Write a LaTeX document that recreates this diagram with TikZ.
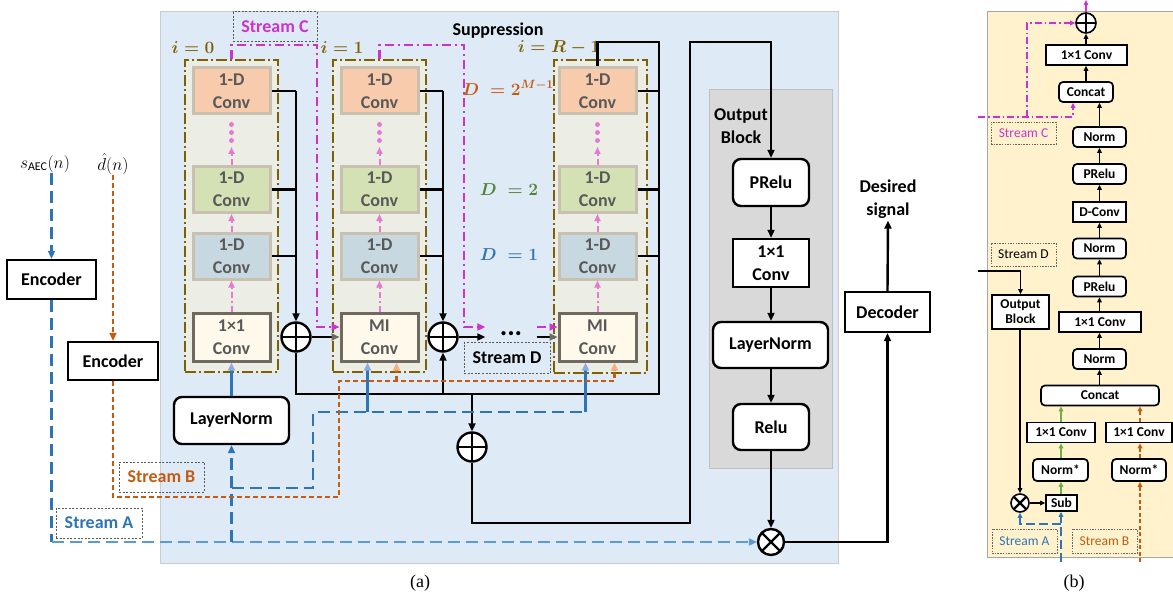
\documentclass[tikz,border=0pt]{standalone}
\usepackage{amsmath}
\usepackage{fontspec}
\setmainfont{Carlito}
\newfontfamily\capfont{Liberation Serif}
\usetikzlibrary{arrows.meta,positioning,calc}
\definecolor{bgblue}{HTML}{DEEAF6}
\definecolor{bgyellow}{HTML}{FFF2CC}
\definecolor{obgray}{HTML}{D9D9D9}
\definecolor{obline}{HTML}{BFBFBF}
\definecolor{convorange}{HTML}{F8CBAD}
\definecolor{convgreen}{HTML}{D3E1B5}
\definecolor{convblue}{HTML}{C8D8E0}
\definecolor{convline}{HTML}{C8C0B0}
\definecolor{mifill}{HTML}{FFF9EC}
\definecolor{miline}{HTML}{6E6A60}
\definecolor{blkfill}{HTML}{ECEEE6}
\definecolor{olive}{HTML}{7F6000}
\definecolor{txtgray}{HTML}{595959}
\definecolor{streamA}{HTML}{2E75B6}
\definecolor{streamAl}{HTML}{5B9BD5}
\definecolor{streamB}{HTML}{C55A11}
\definecolor{streamC}{HTML}{CC33CC}
\definecolor{pinkar}{HTML}{E57AD2}
\definecolor{tipblue}{HTML}{8FAADC}
\definecolor{tiporange}{HTML}{F4B183}
\definecolor{dgreen}{HTML}{548235}
\definecolor{bgreen}{HTML}{70AD47}
\newcommand{\txtA}{\bfseries\fontsize{18}{23}\selectfont}
\newcommand{\txtB}{\bfseries\fontsize{13.5}{15}\selectfont}
\newcommand{\txtBr}{\fontsize{13.5}{15}\selectfont}
\newcommand{\txtM}{\fontsize{17}{20}\selectfont}
\tikzset{
  box/.style={draw, line width=2.4pt, fill=white, align=center, inner sep=0pt, font=\txtA},
  rbox/.style={box, rounded corners=8pt},
  convbox/.style={box, draw=convline, line width=3pt, text=txtgray, minimum width=77pt, minimum height=46pt},
  miconv/.style={convbox, draw=miline, fill=mifill, minimum height=48pt},
  blk/.style={draw=olive, line width=2pt, fill=blkfill, dash pattern=on 11pt off 3pt on 2pt off 3pt,
              minimum width=93pt, minimum height=312pt, inner sep=0pt},
  streambox/.style={draw=black!65, line width=1pt, dash pattern=on 2pt off 1.6pt, inner sep=0pt, font=\txtA},
  lab/.style={font=\txtM, inner sep=0pt},
  ringnode/.style={circle, draw, line width=2.4pt, fill=white, inner sep=0pt},
  sumnode/.style={ringnode, minimum size=29pt,
    path picture={\draw[line width=2.4pt] (path picture bounding box.north) -- (path picture bounding box.south)
                  (path picture bounding box.west) -- (path picture bounding box.east);}},
  mulnode/.style={ringnode, minimum size=26pt,
    path picture={\draw[line width=2.4pt] (path picture bounding box.north west) -- (path picture bounding box.south east)
                  (path picture bounding box.north east) -- (path picture bounding box.south west);}},
  wire/.style={line width=2.4pt},
  arr/.style={wire, -{Triangle[length=8pt,width=7pt]}},
  garr/.style={wire, -{Triangle[length=8pt,width=7pt,color=miline]}},
  arrA/.style={-{Triangle[length=8pt,width=7pt]}},
  tipA/.style={-{Triangle[length=8pt,width=7pt,color=tipblue]}},
  tipB/.style={-{Triangle[length=8pt,width=7pt,color=tiporange]}},
  dashA/.style={draw=streamA, line width=2.4pt, dash pattern=on 12pt off 6pt},
  solidA/.style={draw=streamA, line width=2.4pt},
  dashB/.style={draw=streamB, line width=2.4pt, dash pattern=on 5pt off 3pt},
  magC/.style={draw=streamC, line width=2.6pt, dash pattern=on 9pt off 4pt on 2pt off 4pt},
  pinkup/.style={draw=pinkar, line width=2pt, dash pattern=on 6pt off 3pt on 2pt off 3pt,
                 -{Triangle[length=7pt,width=6pt]}},
  pinkdots/.style={draw=pinkar, line width=5pt, line cap=round, dash pattern=on 0pt off 8pt},
  % panel (b)
  bbox/.style={draw, line width=1.7pt, fill=white, align=center, inner sep=0pt, font=\txtB, minimum height=20pt},
  brbox/.style={bbox, rounded corners=4pt},
  btip/.style={-{Triangle[length=5pt,width=4.5pt]}},
  barr/.style={line width=1.6pt, btip},
  bgarr/.style={barr, draw=bgreen},
  bdashA/.style={draw=streamA, line width=1.6pt, dash pattern=on 9pt off 4pt},
  bdashB/.style={draw=streamB, line width=1.6pt, dash pattern=on 4pt off 2.5pt},
  bmagC/.style={draw=streamC, line width=1.7pt, dash pattern=on 7pt off 3pt on 1.5pt off 3pt},
  bstream/.style={draw=black!60, line width=0.8pt, dash pattern=on 1.5pt off 1.2pt, inner sep=0pt, font=\txtBr},
}
\begin{document}
\begin{tikzpicture}[x=1pt, y=-1pt]
  \useasboundingbox (0,0) rectangle (1173,599);

  % ---------- panel (a) ----------
  \node[draw=black!20, fill=bgblue, minimum width=678pt, minimum height=552pt, inner sep=0pt] (pa) at (499,287) {};
  \node[draw=obline, line width=1pt, fill=obgray, minimum width=123pt, minimum height=378pt, inner sep=0pt] (ob) at (770.5,279) {};
  \node[font=\txtA] (supp) at (498,31) {Suppression};

  \node[blk] (blk0) at (231.5,216) {};
  \node[blk] (blk1) at (379.5,216) {};
  \node[blk] (blk2) at (600,216.5) {};

  \node[lab, text=olive] (i0) at (193,48) {$\boldsymbol{i=0}$};
  \node[lab, text=olive] (i1) at (342,48) {$\boldsymbol{i=1}$};
  \node[lab, text=olive] (i2) at (559,48) {$\boldsymbol{i=R-1}$};

  \node[convbox, fill=convorange] (o0) at (231.5,91) {1-D\\Conv};
  \node[convbox, fill=convgreen] (g0) at (231.5,189.5) {1-D\\Conv};
  \node[convbox, fill=convblue] (b0) at (231.5,256) {1-D\\Conv};
  \node[miconv] (c0) at (231.5,337) {1×1\\Conv};

  \node[convbox, fill=convorange] (o1) at (379.5,91) {1-D\\Conv};
  \node[convbox, fill=convgreen] (g1) at (379.5,189.5) {1-D\\Conv};
  \node[convbox, fill=convblue] (b1) at (379.5,256) {1-D\\Conv};
  \node[miconv] (m1) at (379.5,337) {MI\\Conv};

  \node[convbox, fill=convorange] (o2) at (597.5,91) {1-D\\Conv};
  \node[convbox, fill=convgreen] (g2) at (597.5,189.5) {1-D\\Conv};
  \node[convbox, fill=convblue] (b2) at (597.5,256) {1-D\\Conv};
  \node[miconv] (m2) at (597.5,337) {MI\\Conv};

  \node[lab, text=streamB] (dM) at (508,88) {$\boldsymbol{D\;=2^{M-1}}$};
  \node[lab, text=dgreen] (dtwo) at (509,190) {$\boldsymbol{D\;=2}$};
  \node[lab, text=streamA] (done) at (509,255) {$\boldsymbol{D\;=1}$};

  \node[sumnode] (s0) at (296,337) {};
  \node[sumnode] (s1) at (443,337) {};
  \node[sumnode] (s3) at (472,447) {};
  \node[mulnode] (x0) at (771,542) {};
  \node[inner sep=0pt, minimum width=51pt, font=\bfseries\fontsize{28}{28}\selectfont] (dots) at (511,337) {\raisebox{6pt}{...}};

  \node[box, minimum width=89pt, minimum height=39pt] (enc1) at (51.5,279.5) {Encoder};
  \node[box, minimum width=90pt, minimum height=38pt] (enc2) at (113,361) {Encoder};
  \node[rbox, minimum width=115pt, minimum height=47pt] (ln1) at (231.5,420.5) {LayerNorm};
  \node[lab] (sa) at (45,164) {$s_{\mathrm{AEC}}(n)$};
  \node[lab] (dh) at (113,164) {$\hat{d}(n)$};

  \node[font=\txtA, align=center, inner sep=0pt] (obl) at (741,126) {Output\\Block};
  \node[rbox, minimum width=76pt, minimum height=47pt] (pr) at (771,182.5) {PRelu};
  \node[box, minimum width=76pt, minimum height=48pt] (cv) at (771,263) {1×1\\Conv};
  \node[rbox, minimum width=115pt, minimum height=46pt] (ln2) at (770.5,345) {LayerNorm};
  \node[rbox, minimum width=76pt, minimum height=46pt] (re) at (771,427) {Relu};
  \node[box, minimum width=85pt, minimum height=40pt] (dec) at (887.5,312) {Decoder};
  \node[font=\txtA, align=center, inner sep=2pt] (des) at (888,199) {Desired\\signal};

  \node[streambox, text=streamC, minimum width=84pt, minimum height=30pt] (stC) at (275,27) {Stream C};
  \node[streambox, minimum width=86pt, minimum height=31pt] (stD) at (507,358) {Stream D};
  \node[streambox, text=streamB, minimum width=85pt, minimum height=30pt] (stB) at (161.5,477) {Stream B};
  \node[streambox, text=streamA, minimum width=86pt, minimum height=30pt] (stA) at (99,523) {Stream A};

  % skip taps and sums
  \draw[wire] (o0.east) -- (o0.east -| s0);
  \draw[wire] (g0.east) -- (g0.east -| s0);
  \draw[wire] (b0.east) -- (b0.east -| s0);
  \draw[arr] (o0.east -| s0) -- (s0.north);
  \draw[wire] (o1.east) -- (o1.east -| s1);
  \draw[wire] (g1.east) -- (g1.east -| s1);
  \draw[wire] (b1.east) -- (b1.east -| s1);
  \draw[arr] (o1.east -| s1) -- (s1.north);
  \coordinate (busR) at (659,394);
  \coordinate (topR) at (659,42);
  \draw[wire] (o2.east) -- (o2.east -| busR);
  \draw[wire] (g2.east) -- (g2.east -| busR);
  \draw[wire] (b2.east) -- (b2.east -| busR);
  \draw[wire] (s0.south) |- (busR) -- (topR) -| (o2.north);
  \draw[arr] (s1.south |- busR) -- (s1.south);
  \draw[arr] (s3.north |- busR) -- (s3.north);
  \draw[garr] (s0.east) -- (m1.west);
  \draw[arr] (s1.east) -- (dots.west);
  \draw[garr] (dots.east) -- (m2.west);

  % output block
  \coordinate (rb) at (690,523);
  \coordinate (rt) at (690,42);
  \draw[arr] (s3.south) |- (rb) -- (rt) -| (pr.north);
  \draw[arr] (pr.south) -- (cv.north);
  \draw[arr] (cv.south) -- (cv.south |- ln2.north);
  \draw[arr] (ln2.south -| re) -- (re.north);
  \draw[arr] (re.south) -- (x0.north);
  \draw[arr] (x0.east) -| (dec.south);
  \draw[arr] (dec.north) -- (des.south);

  % inner flow
  \draw[pinkup] (c0.north) -- (b0.south);
  \draw[pinkup] (b0.north) -- (g0.south);
  \draw[pinkup] (g0.north) -- ++(0,-18);
  \draw[pinkdots] ($(o0.south)+(0,9)$) -- ++(0,17);
  \draw[pinkup] (m1.north) -- (b1.south);
  \draw[pinkup] (b1.north) -- (g1.south);
  \draw[pinkup] (g1.north) -- ++(0,-18);
  \draw[pinkdots] ($(o1.south)+(0,9)$) -- ++(0,17);
  \draw[pinkup] (m2.north) -- (b2.south);
  \draw[pinkup] (b2.north) -- (g2.south);
  \draw[pinkup] (g2.north) -- ++(0,-18);
  \draw[pinkdots] ($(o2.south)+(0,9)$) -- ++(0,17);

  % stream A
  \draw[dashA, arrA] (enc1.north |- sa.south) -- (enc1.north);
  \draw[dashA] (enc1.south) -- (enc1.south |- x0);
  \draw[dashA, draw=streamAl, arrA] (enc1.south |- x0) -- (x0.west);
  \draw[dashA, arrA] (ln1.south |- x0) -- (ln1.south);
  \draw[solidA, tipA] (ln1.north) -- (c0.south);
  \coordinate (aB) at (313,488);
  \coordinate (aT) at (313,412);
  \coordinate (a1) at ($(m1.south)+(-12,0)$);
  \coordinate (a2) at ($(m2.south)+(-12,0)$);
  \draw[dashA] (ln1.south |- aB) -- (aB) -- (aT) -- (aT -| a2);
  \draw[solidA, tipA] (aT -| a1) -- (a1);
  \draw[solidA, tipA] (aT -| a2) -- (a2);

  % stream B
  \coordinate (bB) at (339,497);
  \coordinate (bT) at (339,381);
  \coordinate (b1) at ($(m1.south)+(17,0)$);
  \coordinate (b2) at ($(m2.south)+(17,0)$);
  \draw[dashB, arrA] (enc2.north |- dh.south) -- (enc2.north);
  \draw[dashB, tipB] (enc2.south) |- (bB) -- (bT) -| (b2);
  \draw[dashB, tipB] (bT -| b1) -- (b1);

  % stream C
  \coordinate (c1) at (317,45);
  \coordinate (c2) at (464,45);
  \coordinate (cm1) at ($(m1.west)+(0,-10)$);
  \coordinate (cm2) at ($(m2.west)+(0,-10)$);
  \draw[magC, arrA] (blk0.north) |- (c1) |- (cm1);
  \draw[magC, arrA] (blk1.north) |- (c2) |- (dots.west |- cm1);
  \draw[magC, arrA] (dots.east |- cm2) -- (cm2);

  \node[font=\capfont\fontsize{18}{20}\selectfont] (capa) at (420,583) {(a)};

  % ---------- panel (b) ----------
  \node[draw=black!35, fill=bgyellow, minimum width=200pt, minimum height=546pt, inner sep=0pt] (pb) at (1087,284) {};
  \node[sumnode, minimum size=20pt, line width=1.6pt] (bsum) at (1086,23) {};
  \node[bbox, minimum width=81pt] (bcv1) at (1086.5,55) {1×1 Conv};
  \node[brbox, minimum width=54pt] (bcat1) at (1086,92) {Concat};
  \node[brbox, minimum width=53pt] (bn1) at (1099.5,137) {Norm};
  \node[brbox, minimum width=53pt] (bpr1) at (1099.5,174) {PRelu};
  \node[bbox, minimum width=53pt] (bdc) at (1099.5,212) {D-Conv};
  \node[brbox, minimum width=53pt] (bn2) at (1099.5,248.5) {Norm};
  \node[brbox, minimum width=53pt] (bpr2) at (1099.5,286.5) {PRelu};
  \node[bbox, minimum width=82pt] (bcv2) at (1100,322) {1×1 Conv};
  \node[brbox, minimum width=53pt] (bn3) at (1099.5,359) {Norm};
  \node[brbox, minimum width=118pt] (bcat2) at (1100,395.5) {Concat};
  \node[bbox, minimum width=68pt] (bcvL) at (1061,432.5) {1×1 Conv};
  \node[bbox, minimum width=66pt] (bcvR) at (1139,432.5) {1×1 Conv};
  \node[brbox, minimum width=55pt, minimum height=22pt] (bnsL) at (1060.5,470) {Norm*};
  \node[brbox, minimum width=54pt, minimum height=22pt] (bnsR) at (1139,470) {Norm*};
  \node[mulnode, minimum size=18pt, line width=1.6pt] (bmul) at (1020,503) {};
  \node[bbox, minimum width=31pt, minimum height=16pt] (bsub) at (1061.5,503) {Sub};
  \node[bbox, minimum width=57pt, minimum height=34pt] (bob) at (1020.5,312) {Output\\Block};

  \node[bstream, text=streamC, minimum width=65pt, minimum height=22pt] (bsC) at (1023.5,133) {Stream C};
  \node[bstream, minimum width=65pt, minimum height=23pt] (bsD) at (1023.5,254.5) {Stream D};
  \node[bstream, text=streamA, minimum width=65pt, minimum height=24pt] (bsA) at (1024.5,541) {Stream A};
  \node[bstream, text=streamB, minimum width=65pt, minimum height=24pt] (bsB) at (1104.5,541) {Stream B};

  \draw[barr] (bcv1.north -| bsum) -- (bsum.south);
  \draw[barr] (bcat1.north) -- (bcat1.north |- bcv1.south);
  \draw[barr] (bn1.north) -- (bn1.north |- bcat1.south);
  \draw[barr] (bpr1.north) -- (bn1.south);
  \draw[barr] (bdc.north) -- (bpr1.south);
  \draw[barr] (bn2.north) -- (bdc.south);
  \draw[barr] (bpr2.north) -- (bn2.south);
  \draw[barr] (bcv2.north -| bpr2) -- (bpr2.south);
  \draw[barr] (bn3.north) -- (bn3.north |- bcv2.south);
  \draw[barr] (bcat2.north -| bn3) -- (bn3.south);
  \draw[bgarr] (bcvL.north) -- (bcvL.north |- bcat2.south);
  \draw[bgarr] (bnsL.north -| bcvL) -- (bcvL.south);
  \draw[bgarr] (bsub.north -| bcvL) -- (bcvL |- bnsL.south);
  \coordinate (bBin) at (1140,562);
  \draw[bdashB, btip] (bBin) -- (bBin |- bnsR.south);
  \draw[bdashB, btip] (bBin |- bnsR.north) -- (bBin |- bcvR.south);
  \draw[bdashB, btip] (bBin |- bcvR.north) -- (bBin |- bcat2.south);
  \coordinate (bAin) at (1061,562);
  \coordinate (bAk) at (1061,524);
  \draw[bdashA, btip] (bAin) -- (bAin |- bsub.south);
  \draw[bdashA, btip] (bAk) -| (bmul.south);
  \draw[barr] (bob.south -| bmul) -- (bmul.north);
  \draw[barr] (bmul.east) -- (bsub.west);
  \coordinate (bDin) at (978,271);
  \draw[barr] (bDin) -| (bob.north);
  \coordinate (bCin) at (978,117);
  \coordinate (bCk) at (1027,117);
  \coordinate (bCout) at (1086,0);
  \draw[bmagC, btip] (bCin) -| ($(bcat1.south)+(-13,0)$);
  \draw[bmagC, btip] (bCk) |- (bsum.west);
  \draw[bmagC, btip] (bsum.north) -- (bCout);

  \node[font=\capfont\fontsize{18}{20}\selectfont] (capb) at (1074,583) {(b)};
\end{tikzpicture}
\end{document}
